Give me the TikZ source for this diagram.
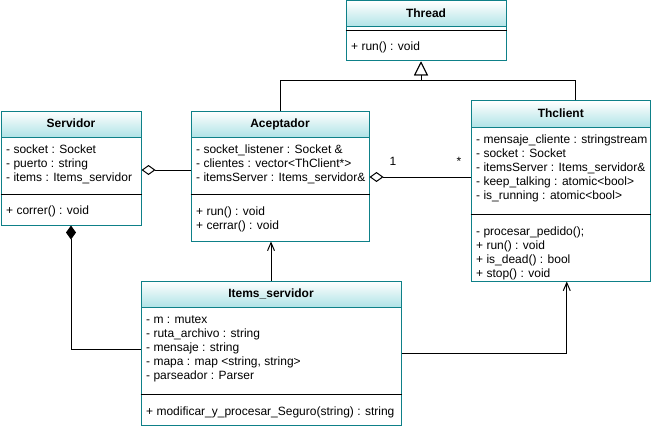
\documentclass[tikz,border=0pt]{standalone}
\usepackage{fontspec}
\setmainfont{Liberation Sans}
\usetikzlibrary{arrows.meta}
\definecolor{tealline}{RGB}{14,128,136}
\definecolor{tealfill}{RGB}{176,227,230}

\tikzset{
  x=1pt, y=-1pt,
  every node/.style={font=\fontsize{12}{14}\selectfont},
  classbox/.style={draw=tealline, line width=1pt, fill=white, anchor=north west, inner sep=0pt},
  classhead/.style={draw=tealline, line width=1pt, top color=white, bottom color=tealfill,
    anchor=north west, inner sep=0pt, minimum height=26pt},
  classtitle/.style={font=\fontsize{12}{14}\selectfont\bfseries, inner sep=0pt,
    text height=8.6pt, text depth=2.5pt},
  member/.style={anchor=west, inner sep=0pt, text height=8.6pt, text depth=2.5pt},
  sepline/.style={black, line width=1pt},
  conn/.style={black, line width=1pt},
  inherit/.style={conn, -{Triangle[open, length=14pt, width=14pt, fill=white]}},
  aggr/.style={conn, {Diamond[open, length=14pt, width=10pt, fill=white]}-},
  compo/.style={conn, {Diamond[length=14pt, width=10pt]}-},
  uses/.style={conn, -{Straight Barb[length=8pt, width=7pt]}},
}

% class box with a shaded title compartment
\newcommand\umlclass[6]{% name, x, y, width, height, title
  \node[classbox, minimum width=#4pt, minimum height=#5pt] (#1) at (#2,#3) {};
  \node[classhead, minimum width=#4pt] (#1-hd) at (#2,#3) {};
  \node[classtitle] (#1-tt) at (#1-hd.center) {#6};
}
% one text line per member, 14pt apart
\newcommand\umlmembers[4]{% prefix, x, first y, list
  \foreach \mtext [count=\i] in {#4}
    \node[member] (#1\i) at (#2,{#3+14*(\i-1)}) {\mtext};
}
% black line between compartments
\newcommand\umlsep[2]{% class, y
  \coordinate (#1-sy) at (0,#2);
  \draw[sepline] (#1-sy -| #1.west) -- (#1-sy -| #1.east);
}

\begin{document}
\begin{tikzpicture}
\useasboundingbox (0,0) rectangle (651,428);

% Thread
\umlclass{thr}{345.5}{0.5}{160}{60}{Thread}
\umlsep{thr}{30.5}
\umlmembers{thr-m}{351}{47}{{+ run() : void}}

% Servidor
\umlclass{srv}{0.5}{110.5}{140}{114}{Servidor}
\umlmembers{srv-a}{6}{150}{{- socket : Socket},{- puerto : string},{- items : Items\_servidor}}
\umlsep{srv}{194.5}
\umlmembers{srv-m}{6}{211}{{+ correr() : void}}

% Aceptador
\umlclass{acc}{190.5}{110.5}{178}{130}{Aceptador}
\umlmembers{acc-a}{196}{150}{{- socket\_listener : Socket \&},{- clientes : vector<ThClient*>},{- itemsServer : Items\_servidor\&}}
\umlsep{acc}{194.5}
\umlmembers{acc-m}{196}{212}{{+ run() : void},{+ cerrar() : void}}

% Thclient
\umlclass{thc}{470.5}{100.5}{179.5}{180}{Thclient}
\umlmembers{thc-a}{476}{140}{{- mensaje\_cliente : stringstream},{- socket : Socket},{- itemsServer : Items\_servidor\&},{- keep\_talking : atomic<bool>},{- is\_running : atomic<bool>}}
\umlsep{thc}{214.5}
\umlmembers{thc-m}{476}{232}{{- procesar\_pedido();},{+ run() : void},{+ is\_dead() : bool},{+ stop() : void}}

% Items_servidor
\umlclass{itm}{140.5}{280.5}{260}{144}{Items\_servidor}
\umlmembers{itm-a}{146}{320}{{- m : mutex},{- ruta\_archivo : string},{- mensaje : string},{- mapa : map <string, string>},{- parseador : Parser}}
\umlsep{itm}{394.5}
\umlmembers{itm-m}{146}{412}{{+ modificar\_y\_procesar\_Seguro(string) : string}}

% generalisation towards Thread
\coordinate (thr-in) at ([xshift=-5pt]thr.south);
\coordinate (thc-up) at ([xshift=15pt]thc.north);
\draw[inherit] (acc.north) -- ++(0,-30) -| (thr-in);
\draw[inherit] (thc-up) -- ++(0,-20) -| (thr-in);

% Servidor <>-- Aceptador
\coordinate (srv-ag) at ([yshift=-2pt]srv.east);
\draw[aggr] (srv-ag) -- (srv-ag -| acc.west);

% Aceptador <>-- Thclient, multiplicities
\coordinate (acc-ag) at ([yshift=-1pt]acc.east);
\draw[aggr] (acc-ag) -- (acc-ag -| thc.west);
\node[inner sep=0pt] (mul-one) at (393,161) {1};
\node[inner sep=0pt] (mul-many) at (459,161) {*};

% Servidor composition of Items_servidor
\coordinate (itm-in) at ([yshift=4pt]itm.west);
\draw[compo] (srv.south) |- (itm-in);

% Items_servidor used by Aceptador and Thclient
\draw[uses] (itm.north) -- (itm.north |- acc.south);
\coordinate (thc-dn) at ([xshift=6pt]thc.south);
\draw[uses] (itm.east) -| (thc-dn);
\end{tikzpicture}
\end{document}
